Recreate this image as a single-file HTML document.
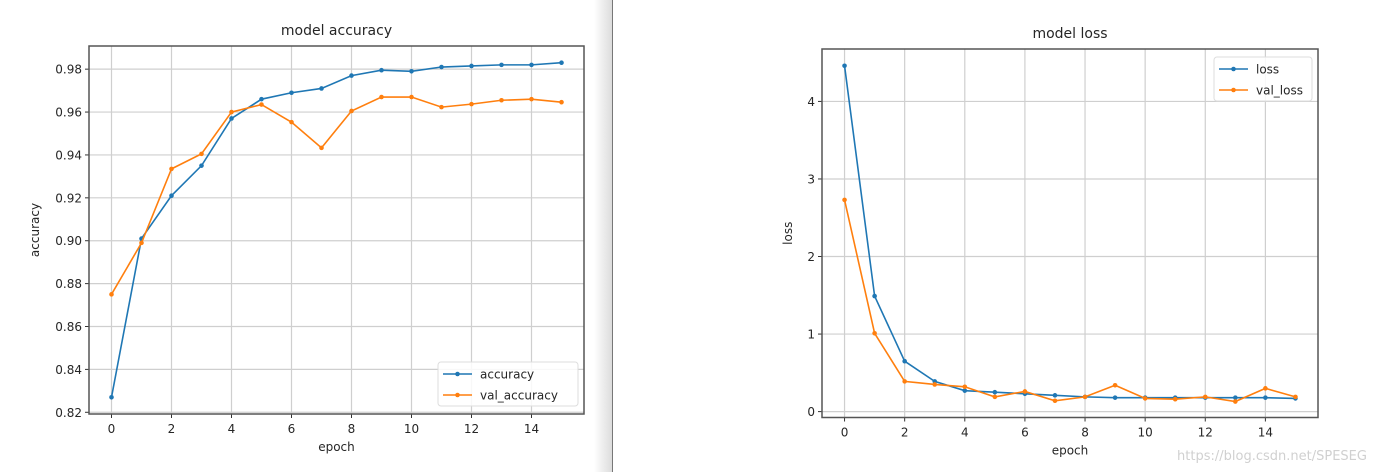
<!DOCTYPE html>
<html><head><meta charset="utf-8"><style>
body{margin:0;width:1380px;height:472px;background:#fff;overflow:hidden;font-family:"DejaVu Sans","Liberation Sans",sans-serif}
svg text{font-family:"DejaVu Sans","Liberation Sans",sans-serif;fill:#262626}
</style></head><body>
<svg id="s" width="1380" height="472">
<defs><linearGradient id="g" x1="0" x2="1"><stop offset="0" stop-color="#fff"/><stop offset="1" stop-color="#dcdcdc"/></linearGradient></defs>
<rect x="594" y="0" width="18" height="472" fill="url(#g)"/>
<line x1="612.5" y1="0" x2="612.5" y2="472" stroke="#777"/>
<text x="1272" y="460" font-size="13" style="fill:#d0d0d0" text-anchor="middle">https://blog.csdn.net/SPESEG</text>
</svg>
<script>
const epochs=[0,1,2,3,4,5,6,7,8,9,10,11,12,13,14,15];
const accuracy=[0.827,0.901,0.921,0.935,0.957,0.966,0.969,0.971,0.977,0.9795,0.979,0.981,0.9815,0.982,0.982,0.983];
const valAccuracy=[0.875,0.899,0.9335,0.9405,0.960,0.9635,0.9553,0.9433,0.9605,0.967,0.967,0.9623,0.9637,0.9655,0.966,0.9646];
const loss=[4.46,1.49,0.65,0.39,0.27,0.25,0.23,0.21,0.19,0.18,0.18,0.18,0.18,0.18,0.18,0.17];
const valLoss=[2.73,1.01,0.39,0.35,0.32,0.19,0.26,0.14,0.19,0.34,0.17,0.16,0.19,0.13,0.30,0.19];
const xTicks=[0,2,4,6,8,10,12,14];
const accTicks=[0.82,0.84,0.86,0.88,0.90,0.92,0.94,0.96,0.98];
const lossTicks=[0,1,2,3,4];
const NS='http://www.w3.org/2000/svg',S=document.getElementById('s');
function mk(t,a,p){const e=document.createElementNS(NS,t);for(const k in a)e.setAttribute(k,a[k]);(p||S).appendChild(e);return e;}
function chart(o){
 const g=mk('g',{});
 
 
 const X=v=>o.l+(v-(-0.75))/16.5*(o.r-o.l);
 const Y=v=>o.b-(v-o.y0)/(o.y1-o.y0)*(o.b-o.t);
 xTicks.forEach(v=>{
  const l=mk('line',{x1:X(v),x2:X(v),y1:o.t,y2:o.b,stroke:'#cfcfcf','stroke-width':1.2},g);
  
  
  mk('line',{x1:X(v),x2:X(v),y1:o.b,y2:o.b+4,stroke:'#333'},g);
  const t=mk('text',{x:X(v),y:o.b+19,'font-size':12,'text-anchor':'middle'},g);t.textContent=v;
  
  
 });
 o.ticks.forEach(v=>{
  const l=mk('line',{x1:o.l,x2:o.r,y1:Y(v),y2:Y(v),stroke:'#cfcfcf','stroke-width':1.2},g);
  
  
  mk('line',{x1:o.l-4,x2:o.l,y1:Y(v),y2:Y(v),stroke:'#333'},g);
  const t=mk('text',{x:o.l-7,y:Y(v)+4.5,'font-size':12,'text-anchor':'end'},g);t.textContent=o.fmt(v);
  
  
 });
 [[o.series1,'#1f77b4',o.n1],[o.series2,'#ff7f0e',o.n2]].forEach(([d,c,n])=>{
  const p=mk('polyline',{points:d.map((v,i)=>X(epochs[i])+','+Y(v)).join(' '),fill:'none',stroke:c,'stroke-width':1.6},g);
  
  
  d.forEach((v,i)=>{const m=mk('circle',{cx:X(epochs[i]),cy:Y(v),r:2.3,fill:c},g);
   
   });
 });
 const f=mk('rect',{x:o.l,y:o.t,width:o.r-o.l,height:o.b-o.t,fill:'none',stroke:'#555','stroke-width':1.5},g);
 
 
 const tt=mk('text',{x:(o.l+o.r)/2,y:o.t-11,'font-size':14,'text-anchor':'middle'},g);tt.textContent=o.title;
 
 
 const xl=mk('text',{x:(o.l+o.r)/2,y:o.b+37,'font-size':12,'text-anchor':'middle'},g);xl.textContent='epoch';
 
 
 const yl=mk('text',{x:o.yl,y:(o.t+o.b)/2,'font-size':12,'text-anchor':'middle',transform:`rotate(-90 ${o.yl} ${(o.t+o.b)/2})`},g);yl.textContent=o.ylab;
 
 
 const lg=mk('g',{},g);
 
 
 mk('rect',{x:o.lx,y:o.ly,width:o.lw,height:44,rx:3,fill:'#fff','fill-opacity':0.85,stroke:'#ddd'},lg);
 [[o.n1,'#1f77b4'],[o.n2,'#ff7f0e']].forEach(([n,c],i)=>{
  const yy=o.ly+12+i*21;
  mk('line',{x1:o.lx+5,x2:o.lx+34,y1:yy,y2:yy,stroke:c,'stroke-width':1.6},lg);
  mk('circle',{cx:o.lx+19.5,cy:yy,r:2.3,fill:c},lg);
  const t=mk('text',{x:o.lx+42,y:yy+4.5,'font-size':12},lg);t.textContent=n;
  
  
 });
}
chart({name:'accuracy-chart',l:89,r:584,t:46,b:414,y0:0.8192,y1:0.9908,ticks:accTicks,fmt:v=>v.toFixed(2),
 series1:accuracy,series2:valAccuracy,n1:'accuracy',n2:'val_accuracy',title:'model accuracy',ylab:'accuracy',yl:39,lx:438,ly:362,lw:140});
chart({name:'loss-chart',l:822,r:1318,t:49,b:417.5,y0:-0.076,y1:4.676,ticks:lossTicks,fmt:v=>v,
 series1:loss,series2:valLoss,n1:'loss',n2:'val_loss',title:'model loss',ylab:'loss',yl:792,lx:1214,ly:57,lw:98});
</script>
</body></html>
